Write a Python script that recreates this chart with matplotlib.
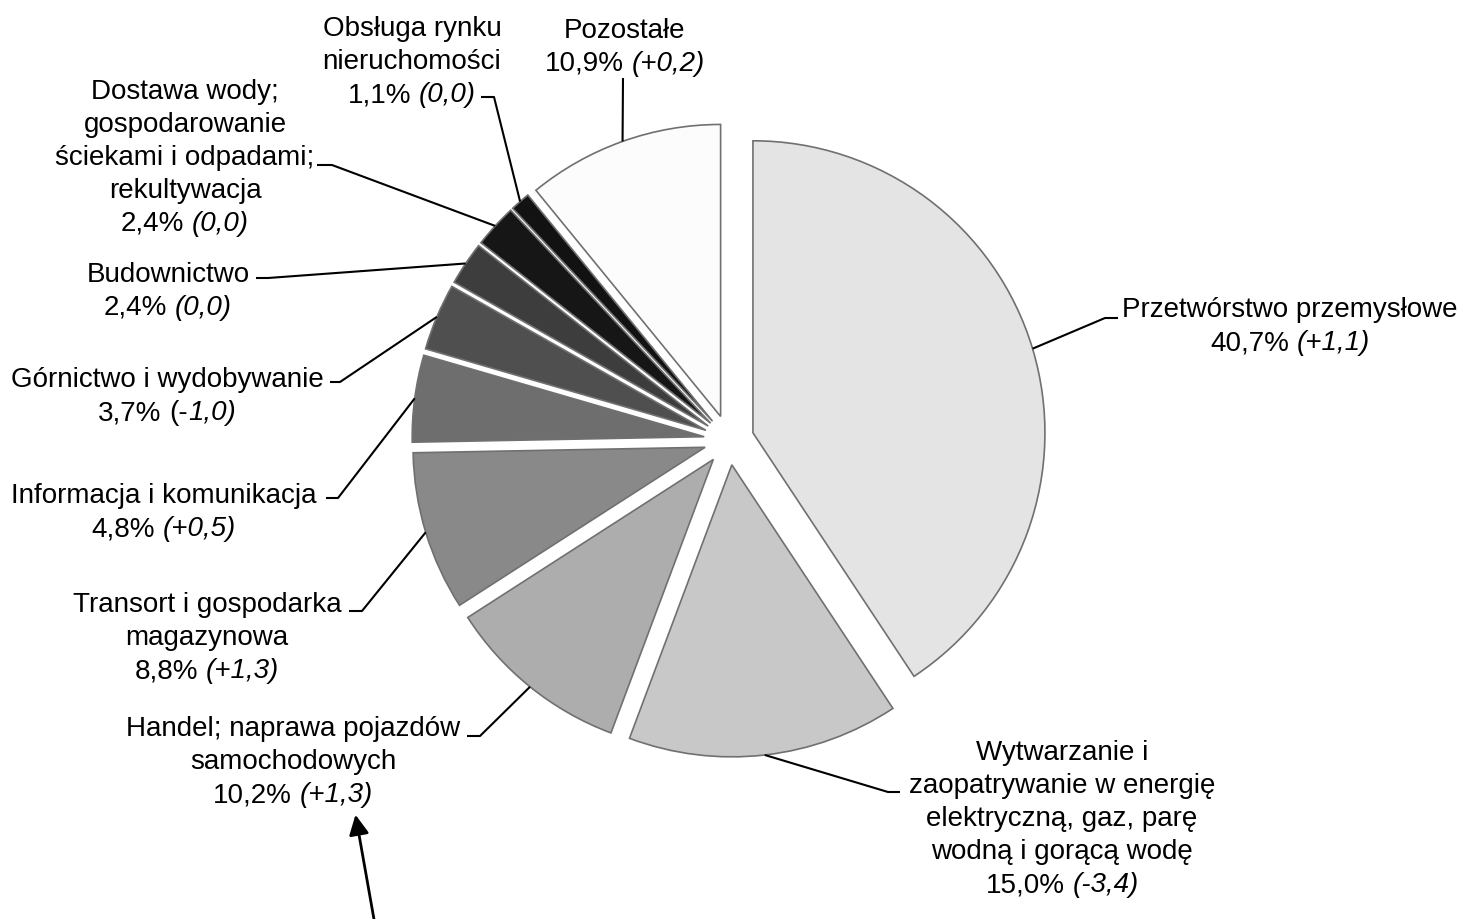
import numpy as np
import matplotlib
matplotlib.use('Agg')
import matplotlib.pyplot as plt

plt.rcParams['font.family'] = ['Liberation Sans', 'DejaVu Sans']

# data, clockwise from 12 o'clock
names = ['Przetwórstwo przemysłowe',
         'Wytwarzanie i\nzaopatrywanie w energię\nelektryczną, gaz, parę\nwodną i gorącą wodę',
         'Handel; naprawa pojazdów\nsamochodowych',
         'Transort i gospodarka\nmagazynowa',
         'Informacja i komunikacja',
         'Górnictwo i wydobywanie',
         'Budownictwo',
         'Dostawa wody;\ngospodarowanie\nściekami i odpadami;\nrekultywacja',
         'Obsługa rynku\nnieruchomości',
         'Pozostałe']
shares = [40.7, 15.0, 10.2, 8.8, 4.8, 3.7, 2.4, 2.4, 1.1, 10.9]
change_plain = ['', '', '', '', '', '(-', '', '', '', '']
change_italic = ['(+1,1)', '(-3,4)', '(+1,3)', '(+1,3)', '(+0,5)', '1,0)', '(0,0)', '(0,0)', '(0,0)', '(+0,2)']

colors = ['#e4e4e4', '#c8c8c8', '#adadad', '#898989', '#6e6e6e',
          '#4f4f4f', '#3d3d3d', '#161616', '#121212', '#fcfcfc']

# layout in pixels (y down): label centre x, first baseline y, leader elbow, leader end
label_pos = [(1290, 317), (1062, 760), (293, 736), (207, 612), (164, 503),
             (167, 387), (168, 282), (185, 99), (412, 36), (625, 38)]
elbows = [(1105, 318), (888, 792), (480, 736), (362, 611), (338, 498),
          (340, 382), (268, 278), (332, 165), (494, 97), (623, 78)]
ends = [(1118, 318), (900, 792), (467, 736), (349, 611), (326, 498),
        (330, 382), (256, 278), (317, 165), (481, 97), (623, 78)]

W, H = 1464, 919
fig = plt.figure(figsize=(W / 100, H / 100), dpi=100)
ax = fig.add_axes([0, 0, 1, 1])

wedges, _ = ax.pie(shares, colors=colors, startangle=-90, counterclock=True,
                   radius=292, center=(729, 440), explode=[25] * len(shares),
                   wedgeprops=dict(edgecolor='#707070', linewidth=1.2))
ax.set_xlim(0, W)
ax.set_ylim(H, 0)
ax.set_aspect('equal')
ax.axis('off')

fs = 20
pitch = 33
renderer = fig.canvas.get_renderer()

for i, w in enumerate(wedges):
    # leader line from middle of the arc
    t = np.radians((w.theta1 + w.theta2) / 2)
    px = w.center[0] + w.r * np.cos(t)
    py = w.center[1] + w.r * np.sin(t)
    ax.plot([px, elbows[i][0], ends[i][0]], [py, elbows[i][1], ends[i][1]],
            color='black', lw=1.5, solid_capstyle='butt')

    cx, by = label_pos[i]
    lines = names[i].split('\n')
    for k, line in enumerate(lines):
        ax.text(cx, by + k * pitch, line, ha='center', va='baseline', fontsize=fs)

    # last line: value upright, change in italics
    yl = by + len(lines) * pitch
    pct = f'{shares[i]:.1f}%'.replace('.', ',')
    t1 = ax.text(0, yl, pct, ha='left', va='baseline', fontsize=fs)
    t2 = ax.text(0, yl, change_plain[i], ha='left', va='baseline', fontsize=fs)
    t3 = ax.text(0, yl, change_italic[i], ha='left', va='baseline', fontsize=fs, style='italic')
    w1 = t1.get_window_extent(renderer).width
    w2 = t2.get_window_extent(renderer).width if change_plain[i] else 0
    w3 = t3.get_window_extent(renderer).width
    gap = 0.28 * fs * 100 / 72
    x0 = cx - (w1 + gap + w2 + w3) / 2
    t1.set_x(x0)
    t2.set_x(x0 + w1 + gap)
    t3.set_x(x0 + w1 + gap + w2)

ax.annotate('', xy=(355, 812), xytext=(375, 925),
            arrowprops=dict(arrowstyle='-|>', color='black', lw=2, mutation_scale=30))

fig.savefig('out.png', dpi=100)
